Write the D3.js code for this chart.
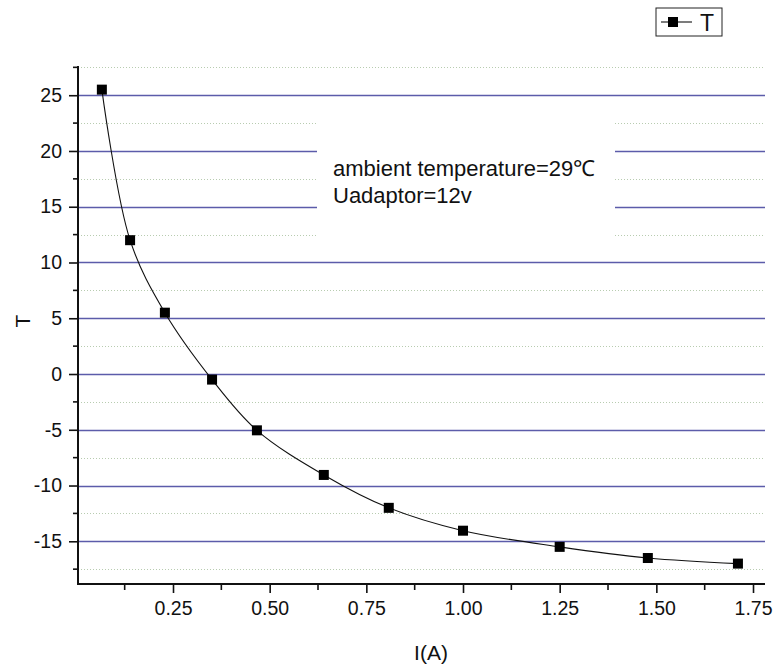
<!DOCTYPE html>
<html>
<head>
<meta charset="utf-8">
<script src="https://cdnjs.cloudflare.com/ajax/libs/d3/7.8.5/d3.min.js"></script>
<style>
  body { margin:0; background:#fff; }
  text { font-family: Arial, "Liberation Sans", sans-serif; fill:#111; }
</style>
</head>
<body>
<script>
// current (A) en temperatuur
var current = [0.066, 0.139, 0.229, 0.351, 0.467, 0.64, 0.808, 1.0, 1.25, 1.478, 1.711];
var temp    = [25.5, 12, 5.5, -0.5, -5.05, -9.05, -12, -14.05, -15.5, -16.5, -17];
var xTicks = [0.25, 0.50, 0.75, 1.00, 1.25, 1.50, 1.75];
var yTicks = [-15, -10, -5, 0, 5, 10, 15, 20, 25];
var noteLines = ["ambient temperature=29\u2103", "Uadaptor=12v"];

var W = 774, H = 666;
// let op: "top" is een window global, dus andere namen
var pL = 78, pR = 765, pT = 66, pB = 584;

var x = d3.scaleLinear().domain([0.0043, 1.781]).range([pL, pR]);
var y = d3.scaleLinear().domain([-18.83, 27.62]).range([pB, pT]);

var svg = d3.select("body").append("svg")
  .attr("width", W).attr("height", H);

// minor gridlines, dotted
var minorY = yTicks.map(function(d){ return d - 2.5; }).concat([27.5]);
svg.append("g").selectAll("line").data(minorY).enter().append("line")
  .attr("x1", pL).attr("x2", pR)
  .attr("y1", function(d){ return Math.round(y(d)) + 0.5; }).attr("y2", function(d){ return Math.round(y(d)) + 0.5; })
  .attr("stroke", "#b8ccb0").attr("stroke-width", 1).attr("stroke-dasharray", "1,2");

// major gridlines
svg.append("g").selectAll("line").data(yTicks).enter().append("line")
  .attr("x1", pL).attr("x2", pR)
  .attr("y1", function(d){ return Math.round(y(d)) + 0.5; }).attr("y2", function(d){ return Math.round(y(d)) + 0.5; })
  .attr("stroke", "#5c5caa").attr("stroke-width", 1.4);

// tekst blok met witte achtergrond
svg.append("rect")
  .attr("x", 317).attr("y", 117).attr("width", 298).attr("height", 121)
  .attr("fill", "#fff");
svg.selectAll(".note").data(noteLines).enter().append("text")
  .attr("class", "note")
  .attr("x", 333)
  .attr("y", function(d, i){ return 176 + i * 27; })
  .style("font-size", "22px")
  .text(function(d){ return d; });

// axes, gewone "-" ipv unicode minus
var yAxis = d3.axisLeft(y).tickValues(yTicks).tickSize(9).tickPadding(7)
  .tickFormat(function(d){ return String(d); });
var xAxis = d3.axisBottom(x).tickValues(xTicks).tickSize(9).tickPadding(8)
  .tickFormat(d3.format(".2f"));

var gy = svg.append("g").attr("transform", "translate(" + pL + ",0)").call(yAxis);
var gx = svg.append("g").attr("transform", "translate(0," + pB + ")").call(xAxis);

[gy, gx].forEach(function(g){
  g.attr("font-size", null).attr("font-family", null);
  g.select(".domain").remove();
  g.selectAll(".tick line").attr("stroke", "#111").attr("stroke-width", 1.6);
  g.selectAll(".tick text").style("font-size", "19.5px").attr("fill", "#111");
});

// minor ticks
svg.append("g").selectAll("line").data(minorY).enter().append("line")
  .attr("x1", pL - 5).attr("x2", pL)
  .attr("y1", function(d){ return y(d); }).attr("y2", function(d){ return y(d); })
  .attr("stroke", "#111").attr("stroke-width", 1.6);
var minorX = xTicks.map(function(d){ return d - 0.125; });
svg.append("g").selectAll("line").data(minorX).enter().append("line")
  .attr("y1", pB).attr("y2", pB + 6)
  .attr("x1", function(d){ return x(d); }).attr("x2", function(d){ return x(d); })
  .attr("stroke", "#111").attr("stroke-width", 1.6);

// assen lijnen
svg.append("path")
  .attr("d", "M" + pL + "," + pT + "V" + pB + "H" + pR)
  .attr("fill", "none").attr("stroke", "#111").attr("stroke-width", 2);

// curve
var pts = current.map(function(c, i){ return [c, temp[i]]; });
var line = d3.line()
  .x(function(d){ return x(d[0]); })
  .y(function(d){ return y(d[1]); })
  .curve(d3.curveCatmullRom.alpha(0.5));
svg.append("path").datum(pts)
  .attr("d", line).attr("fill", "none").attr("stroke", "#111").attr("stroke-width", 1.1);

svg.append("g").selectAll("rect").data(pts).enter().append("rect")
  .attr("x", function(d){ return x(d[0]) - 5; })
  .attr("y", function(d){ return y(d[1]) - 5; })
  .attr("width", 10).attr("height", 10)
  .attr("fill", "#000");

// titels
svg.append("text")
  .attr("x", 431).attr("y", 660)
  .attr("text-anchor", "middle").style("font-size", "21px")
  .text("I(A)");
svg.append("text")
  .attr("transform", "translate(30,321) rotate(-90)")
  .attr("text-anchor", "middle").style("font-size", "21px")
  .text("T");

// legenda
var lg = svg.append("g");
lg.append("rect").attr("x", 656).attr("y", 8).attr("width", 66).attr("height", 28)
  .attr("fill", "#fff").attr("stroke", "#222").attr("stroke-width", 1);
lg.append("line").attr("x1", 661).attr("x2", 692).attr("y1", 22).attr("y2", 22)
  .attr("stroke", "#111").attr("stroke-width", 1.1);
lg.append("rect").attr("x", 668).attr("y", 17).attr("width", 10).attr("height", 10).attr("fill", "#000");
lg.append("text").attr("x", 700).attr("y", 31).style("font-size", "23px").text("T");
</script>
</body>
</html>
